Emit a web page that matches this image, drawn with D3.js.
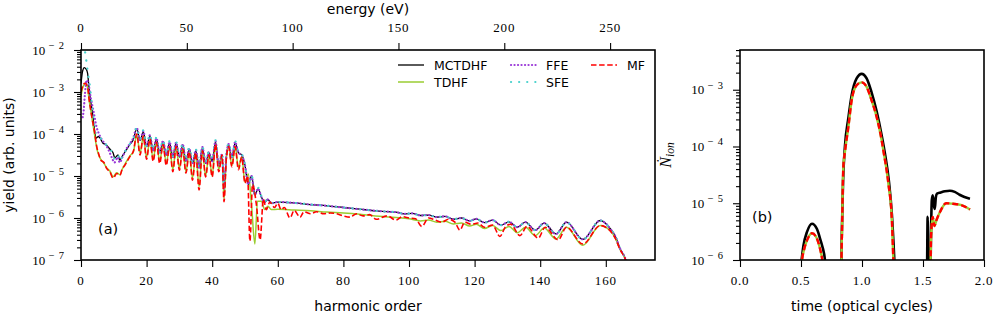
<!DOCTYPE html>
<html>
<head>
<meta charset="utf-8">
<script src="https://cdn.jsdelivr.net/npm/d3@7"></script>
<style>
  body { margin: 0; background: #fff; }
</style>
</head>
<body>
<div id="chart"></div>
<script>
// 1. DATA  (panel a: [harmonic order, log10 yield]; panel b: [optical cycles, log10 rate])
const seriesNames = ["MCTDHF", "TDHF", "FFE", "SFE", "MF"];

const mctdhfHead = [[0,-2.8],[0.5,-2.5],[1,-2.42],[1.5,-2.45],[2,-2.55],[2.5,-2.95],[3,-3.25],[3.5,-3.5],[4,-3.83],[4.6,-4.1],[5.3,-4.06],[6,-4.12],[6.7,-4.22],[7.5,-4.25],[8.2,-4.3],[9,-4.38],[9.8,-4.45],[10.3,-4.57],[11.3,-4.5],[11.8,-4.62],[12.8,-4.5],[13.8,-4.38],[14.8,-4.26],[15.9,-4.14],[17,-3.88],
  [18,-4.15],[19,-3.95],[20,-4.3],[21,-4.05],[22,-4.4],[23,-4.12],[24,-4.45],[25,-4.18],[26,-4.5],[27,-4.21],[28,-4.55],[29,-4.21],[30,-4.55],[31,-4.26],[32,-4.65],[33,-4.36],[34,-4.7],[35,-4.4],[36,-4.8],[37,-4.33],[38,-4.7],[39,-4.45],[40,-4.65],[41,-4.19],[42,-4.75],[43,-4.5],[43.6,-5.3],[44.3,-4.55],[45,-4.26],[46,-4.55],[47,-4.21],
  [48,-4.45],[49,-4.5],[50,-4.75],[51,-5.2],[52,-5.0],[53,-5.45],[54,-5.3],[55,-5.5],[56,-5.62],[57,-5.56],[58,-5.65]];
const ffeHead = [[0.5,-3.6],[0.8,-3.45],[1.2,-3.05],[1.7,-2.72],[2.2,-2.78],[3,-3.15],[3.8,-3.45],[4.8,-3.85],[5.5,-4.0],[6.5,-4.15],[7.5,-4.25],[8.5,-4.4],[9.5,-4.58],[10.2,-4.68],[11.2,-4.55],[11.8,-4.68],[12.8,-4.52],[13.8,-4.36],[14.8,-4.24],[15.9,-4.1],[17,-3.85],
  [18,-4.15],[19,-3.93],[20,-4.3],[21,-4.03],[22,-4.4],[23,-4.1],[24,-4.45],[25,-4.16],[26,-4.5],[27,-4.19],[28,-4.55],[29,-4.2],[30,-4.55],[31,-4.24],[32,-4.65],[33,-4.34],[34,-4.7],[35,-4.38],[36,-4.8],[37,-4.31],[38,-4.7],[39,-4.43],[40,-4.65],[41,-4.17],[42,-4.75],[43,-4.48],[43.6,-5.3],[44.3,-4.53],[45,-4.24],[46,-4.55],[47,-4.19],
  [48,-4.45],[49,-4.5],[50,-4.75],[51,-5.2],[52,-5.0],[53,-5.45],[54,-5.3],[55,-5.5],[56,-5.62],[57,-5.56],[58,-5.65]];
const sfeHead = [[0,-1.9],[0.5,-1.95],[1.1,-2.0],[1.6,-2.24],[2.1,-2.55],[2.7,-2.85],[3.3,-3.3],[4,-3.75],[4.6,-4.0],[5.3,-4.04],[6,-4.1],[6.7,-4.2],[7.5,-4.24],[8.2,-4.3],[9,-4.38],[9.8,-4.47],[10.3,-4.6],[11.3,-4.5],[11.8,-4.64],[12.8,-4.5],[13.8,-4.37],[14.8,-4.25],[15.9,-4.12],[17,-3.84],
  [18,-4.13],[19,-3.91],[20,-4.28],[21,-4.01],[22,-4.38],[23,-4.08],[24,-4.43],[25,-4.14],[26,-4.48],[27,-4.17],[28,-4.53],[29,-4.18],[30,-4.53],[31,-4.22],[32,-4.63],[33,-4.32],[34,-4.68],[35,-4.36],[36,-4.78],[37,-4.29],[38,-4.68],[39,-4.41],[40,-4.63],[41,-4.15],[42,-4.73],[43,-4.46],[43.6,-5.28],[44.3,-4.51],[45,-4.22],[46,-4.53],[47,-4.17],
  [48,-4.43],[49,-4.48],[50,-4.73],[51,-5.18],[52,-4.98],[53,-5.43],[54,-5.28],[55,-5.48],[56,-5.6],[57,-5.55],[58,-5.64]];
// MCTDHF, FFE and SFE lie on top of each other above h = 60
const upperTail = [[60,-5.62],[65,-5.64],[70,-5.68],[75,-5.71],[80,-5.75],[85,-5.79],[90,-5.83],[93.5,-5.85],[96,-5.86],[98.5,-5.9],[101,-5.89],[103.5,-5.94],[106,-5.93],[108.5,-5.98],[111,-5.96],[113.5,-6.03],[116,-6.0],[118.5,-6.07],
  [120.5,-6.02],[123,-6.11],[125.5,-6.05],[128,-6.17],[130.5,-6.09],[133,-6.22],[135.5,-6.1],[138.5,-6.29],[141.2,-6.12],[144.8,-6.38],[148,-6.1],[153,-6.51],[158.3,-6.06],[160,-6.13],[161.3,-6.25],[163,-6.45],[164.3,-6.72],[165.9,-6.96],[166.5,-7.1]];
const tdhf = [[0,-3.1],[0.5,-2.9],[1,-2.82],[1.5,-2.8],[2,-2.9],[2.5,-3.2],[3,-3.45],[3.5,-3.7],[4,-3.95],[4.5,-4.2],[5,-4.4],[6,-4.6],[7,-4.7],[7.8,-4.8],[8.8,-4.88],[9.8,-5.02],[10.9,-4.92],[11.9,-4.97],[12.5,-4.85],[13.4,-4.72],[14.9,-4.52],[16,-4.42],[17,-4.02],
  [18,-4.45],[19,-4.07],[20,-4.55],[21,-4.14],[22,-4.6],[23,-4.2],[24,-4.65],[25,-4.25],[26,-4.7],[27,-4.3],[28,-4.85],[29,-4.3],[30,-4.82],[31,-4.35],[32,-4.9],[33,-4.42],[34,-5.05],[35,-4.45],[36,-5.25],[37,-4.4],[38,-5.0],[39,-4.5],[40,-5.0],[41,-4.25],[42,-4.85],[43,-4.5],[43.6,-5.55],[44.3,-4.6],[45,-4.3],[46,-4.75],[47,-4.3],
  [48,-4.8],[49,-4.55],[50,-5.15],[51,-4.95],[52,-5.7],[53,-6.62],[53.8,-5.6],[55,-5.6],[56,-5.8],[57,-5.72],[58,-5.8],[60,-5.79],[65,-5.81],[70,-5.83],[75,-5.86],[80,-5.88],[85,-5.91],[91,-5.96],[96,-5.99],[100,-6.02],[103.5,-6.07],[106,-6.05],[108.5,-6.1],[111,-6.08],[113.5,-6.14],[116,-6.12],[118.5,-6.19],
  [120.5,-6.15],[123,-6.25],[125.5,-6.18],[128,-6.3],[130.5,-6.2],[133,-6.35],[135.5,-6.22],[138.5,-6.42],[141.2,-6.24],[144.8,-6.5],[148,-6.22],[153,-6.65],[158.3,-6.18],[160,-6.22],[161.3,-6.3],[163,-6.5],[164.3,-6.74],[165.9,-6.97],[166.5,-7.1]];
const mf = [[0,-3.0],[0.7,-2.83],[1.2,-2.79],[2,-2.87],[2.5,-3.19],[3.3,-3.59],[4.2,-3.98],[4.8,-4.3],[5.5,-4.5],[6,-4.62],[7,-4.68],[7.8,-4.82],[8.8,-4.9],[9.8,-5.05],[10.9,-4.94],[11.9,-4.98],[12.5,-4.85],[13.4,-4.74],[14.9,-4.54],[16,-4.4],[17,-4.0],
  [18,-4.5],[19,-4.05],[20,-4.6],[21,-4.12],[22,-4.65],[23,-4.2],[24,-4.7],[25,-4.25],[26,-4.75],[27,-4.3],[28,-4.9],[29,-4.3],[30,-4.86],[31,-4.35],[32,-4.93],[33,-4.42],[34,-5.1],[35,-4.45],[36,-5.33],[37,-4.4],[38,-5.02],[39,-4.5],[40,-5.02],[41,-4.25],[42,-4.9],[43,-4.5],[43.6,-5.61],[44.3,-4.6],[45,-4.3],[46,-4.78],[47,-4.3],
  [48,-4.85],[49,-4.55],[50,-5.17],[50.8,-5.0],[51.5,-6.55],[52.3,-5.2],[53.5,-5.7],[54.6,-6.52],[55.6,-5.55],[56.5,-5.8],[57.6,-5.62],[59,-5.75],[60,-5.65],[61,-5.8],[62,-5.75],[63.7,-6.0],[65,-5.82],[66.8,-5.98],[68,-5.85],[70,-5.9],[71.8,-5.85],[74,-5.9],[76,-5.88],[78,-5.9],[80,-5.95],[82,-5.98],[84,-5.9],[86,-5.95],[88,-5.92],[90,-6.03],[93.4,-5.95],[96,-6.05],[98,-5.97],[100,-6.0],
  [102,-6.02],[103.9,-6.2],[106,-6.0],[108,-6.05],[110,-6.1],[112,-6.03],[114,-6.1],[115.5,-6.29],[117,-6.1],[119,-6.15],[121,-6.12],[123,-6.22],[125.5,-6.17],[127.7,-6.44],[129.5,-6.2],[131,-6.15],[133.8,-6.42],[136,-6.2],[139.4,-6.48],[141.5,-6.22],[145.5,-6.52],[148,-6.22],[153,-6.62],[158.3,-6.18],[160,-6.22],[161.3,-6.3],[163,-6.5],[164.3,-6.74],[165.9,-6.97],[166.5,-7.1]];

const ionMCTDHF = [[0.49,-6.3],[0.505,-6.0],[0.52,-5.75],[0.55,-5.5],[0.59,-5.36],[0.63,-5.45],[0.66,-5.65],[0.69,-5.9],[0.71,-6.2],
  [0.825,-6.5],[0.835,-5.5],[0.845,-4.6],[0.86,-4.0],[0.888,-3.5],[0.915,-3.1],[0.956,-2.8],[0.997,-2.72],[1.038,-2.8],[1.079,-3.05],[1.12,-3.38],[1.161,-3.8],[1.19,-4.15],[1.22,-4.6],[1.245,-5.2],[1.265,-6.0],[1.275,-6.5],
  [1.532,-6.3],[1.538,-5.24],[1.546,-6.3],[1.560,-6.3],[1.566,-5.5],[1.572,-4.95],[1.58,-4.86],[1.59,-5.05],[1.597,-5.1],[1.605,-4.9],[1.615,-4.83],[1.645,-4.81],[1.68,-4.79],[1.72,-4.78],[1.76,-4.8],[1.80,-4.85],[1.84,-4.89],[1.885,-4.92]];
const ionTDHF = [[0.495,-6.3],[0.508,-6.0],[0.525,-5.82],[0.55,-5.65],[0.59,-5.53],[0.62,-5.58],[0.65,-5.75],[0.675,-6.0],[0.695,-6.3],
  [0.825,-6.5],[0.835,-5.6],[0.847,-4.36],[0.86,-4.1],[0.888,-3.66],[0.915,-3.19],[0.956,-2.92],[0.997,-2.87],[1.038,-2.95],[1.079,-3.19],[1.12,-3.48],[1.161,-3.89],[1.175,-4.07],[1.216,-4.65],[1.245,-5.3],[1.257,-6.0],[1.267,-6.5],
  [1.558,-6.5],[1.566,-5.6],[1.58,-5.24],[1.594,-5.4],[1.61,-5.3],[1.64,-5.15],[1.69,-5.0],[1.745,-5.01],[1.81,-5.03],[1.885,-5.11]];
const ionMF = [[0.495,-6.3],[0.508,-6.0],[0.525,-5.82],[0.55,-5.65],[0.59,-5.53],[0.62,-5.58],[0.65,-5.75],[0.675,-6.0],[0.695,-6.3],
  [0.825,-6.5],[0.835,-5.6],[0.847,-4.36],[0.86,-4.1],[0.888,-3.66],[0.915,-3.19],[0.956,-2.92],[0.997,-2.87],[1.038,-2.95],[1.079,-3.19],[1.12,-3.48],[1.161,-3.89],[1.175,-4.07],[1.216,-4.65],[1.245,-5.3],[1.257,-6.0],[1.267,-6.5],
  [1.558,-6.5],[1.566,-5.6],[1.58,-5.24],[1.594,-5.4],[1.61,-5.3],[1.64,-5.15],[1.69,-5.0],[1.745,-5.01],[1.81,-5.03],[1.885,-5.11]];

const harmonicTicks = [0, 20, 40, 60, 80, 100, 120, 140, 160];
const energyTicks = [0, 50, 100, 150, 200, 250];
const timeTicks = [0, 0.5, 1.0, 1.5, 2.0];
const photonEnergy = 1.5498; // eV per harmonic (800 nm)

// 2. SETUP
const width = 995, height = 315;
const svg = d3.select("#chart").append("svg")
    .attr("width", width).attr("height", height);

const serif = "'Liberation Serif', 'DejaVu Serif', serif";
const sans = "'DejaVu Sans', sans-serif";

const A = {left: 81, right: 655, top: 50, bottom: 260};
const B = {left: 740, right: 984, top: 50, bottom: 260};

const xA = d3.scaleLinear().domain([0, 175]).range([A.left, A.right]);
const eA = d3.scaleLinear().domain([0, 175 * photonEnergy]).range([A.left, A.right]);
const yA = d3.scaleLog().domain([1e-7, 1e-2]).range([A.bottom, A.top]);
const xB = d3.scaleLinear().domain([0, 2]).range([B.left, B.right]);
const yB = d3.scaleLog().domain([1e-6, Math.pow(10, -2.3)]).range([B.bottom, B.top]);

const color = {MCTDHF: "#000000", TDHF: "#9acd32", FFE: "#9b3ad8", SFE: "#48d1cc", MF: "#ff0000"};
const dash = {MCTDHF: null, TDHF: null, FFE: "0.1,3.4", SFE: "0.1,8", MF: "5.5,2.6"};
const widthA = {MCTDHF: 1.3, TDHF: 1.5, FFE: 2.2, SFE: 2.2, MF: 1.6};
const isDotted = d => d === "FFE" || d === "SFE";

const defs = svg.append("defs");
defs.append("clipPath").attr("id", "clipA").append("rect")
    .attr("x", A.left).attr("y", A.top).attr("width", A.right - A.left).attr("height", A.bottom - A.top);
defs.append("clipPath").attr("id", "clipB").append("rect")
    .attr("x", B.left).attr("y", B.top).attr("width", B.right - B.left).attr("height", B.bottom - B.top);

// 3. AXES
function logYAxis(scale, x, lo, hi) {
    const top = scale.domain()[1] * 1.0001;
    const majors = d3.range(lo, hi + 1).map(e => Math.pow(10, e));
    const minors = [];
    for (let e = lo; e <= hi; e++) {
        for (let k = 2; k <= 9; k++) {
            const v = k * Math.pow(10, e);
            if (v <= top) minors.push(v);
        }
    }
    const g = svg.append("g").attr("transform", `translate(${x},0)`);
    g.append("g").call(d3.axisLeft(scale).tickValues(minors).tickSize(4).tickFormat(""));
    g.append("g").call(d3.axisLeft(scale).tickValues(majors).tickSize(7).tickFormat(""));
    g.selectAll(".domain").remove();
    g.selectAll("line").attr("stroke-width", 1.1);

    d3.range(lo, hi + 1).forEach(e => {
        const t = svg.append("text")
            .attr("x", x - 13).attr("y", scale(Math.pow(10, e)) + 4.5)
            .attr("text-anchor", "end")
            .style("font-family", serif).style("font-size", "13px");
        t.append("tspan").text("10");
        t.append("tspan").attr("dx", 3.5).attr("dy", -5.5)
            .style("font-size", "10.5px").attr("letter-spacing", "4px")
            .text("\u2212" + (-e));
    });
}

function linearXAxis(scale, y, ticks, fmt, orient) {
    const axis = orient === "top" ? d3.axisTop(scale) : d3.axisBottom(scale);
    const g = svg.append("g").attr("transform", `translate(0,${y})`)
        .call(axis.tickValues(ticks).tickSize(7).tickFormat(""));
    g.selectAll(".domain").remove();
    g.selectAll("line").attr("stroke-width", 1.1);
    svg.append("g").selectAll("text").data(ticks).join("text")
        .attr("x", d => scale(d))
        .attr("y", orient === "top" ? y - 18 : y + 25)
        .attr("text-anchor", "middle")
        .style("font-family", serif).style("font-size", "13px")
        .attr("letter-spacing", "0.8px")
        .text(fmt);
}

logYAxis(yA, A.left, -7, -2);
linearXAxis(xA, A.bottom, harmonicTicks, d => d, "bottom");
linearXAxis(eA, A.top, energyTicks, d => d, "top");

logYAxis(yB, B.left, -6, -3);
linearXAxis(xB, B.bottom, timeTicks, d => d.toFixed(1), "bottom");

// 4. LINES
const lineA = d3.line().x(d => xA(d[0])).y(d => yA(Math.pow(10, d[1]))).curve(d3.curveMonotoneX);
const lineB = d3.line().x(d => xB(d[0])).y(d => yB(Math.pow(10, d[1]))).curve(d3.curveMonotoneX);

const dataA = {
    MCTDHF: mctdhfHead.concat(upperTail),
    TDHF: tdhf,
    FFE: ffeHead.concat(upperTail),
    SFE: sfeHead.concat(upperTail),
    MF: mf
};

const plotA = svg.append("g").attr("clip-path", "url(#clipA)");
plotA.selectAll("path").data(seriesNames).join("path")
    .attr("d", d => lineA(dataA[d]))
    .attr("fill", "none")
    .attr("stroke", d => color[d])
    .attr("stroke-width", d => widthA[d])
    .attr("stroke-dasharray", d => dash[d])
    .attr("stroke-linejoin", "round")
    .attr("stroke-linecap", d => isDotted(d) ? "round" : "butt");

const dataB = [
    {name: "MCTDHF", pts: ionMCTDHF, w: 2.6, dash: null},
    {name: "TDHF", pts: ionTDHF, w: 2.4, dash: null},
    {name: "MF", pts: ionMF, w: 2.4, dash: "6,3"}
];
svg.append("g").attr("clip-path", "url(#clipB)")
    .selectAll("path").data(dataB).join("path")
    .attr("d", d => lineB(d.pts))
    .attr("fill", "none")
    .attr("stroke", d => color[d.name])
    .attr("stroke-width", d => d.w)
    .attr("stroke-dasharray", d => d.dash)
    .attr("stroke-linejoin", "round");

// frames
[A, B].forEach(p => {
    svg.append("rect")
        .attr("x", p.left).attr("y", p.top)
        .attr("width", p.right - p.left).attr("height", p.bottom - p.top)
        .attr("fill", "none").attr("stroke", "#000").attr("stroke-width", 1.6);
});

// 5. LABELS
svg.append("text").attr("x", (A.left + A.right) / 2).attr("y", 311)
    .attr("text-anchor", "middle").style("font-family", sans).style("font-size", "14px")
    .text("harmonic order");
svg.append("text").attr("x", (A.left + A.right) / 2).attr("y", 13.5)
    .attr("text-anchor", "middle").style("font-family", sans).style("font-size", "14px")
    .text("energy (eV)");
svg.append("text").attr("transform", `translate(14,${(A.top + A.bottom) / 2}) rotate(-90)`)
    .attr("text-anchor", "middle").style("font-family", sans).style("font-size", "14px")
    .text("yield (arb. units)");
svg.append("text").attr("x", (B.left + B.right) / 2).attr("y", 310.5)
    .attr("text-anchor", "middle").style("font-family", sans).style("font-size", "14px")
    .text("time (optical cycles)");

const nLabel = svg.append("text")
    .attr("transform", `translate(671,${(B.top + B.bottom) / 2}) rotate(-90)`)
    .attr("text-anchor", "middle")
    .style("font-family", serif).style("font-style", "italic").style("font-size", "16px");
nLabel.append("tspan").text("\u1E44");
nLabel.append("tspan").attr("dy", 3).style("font-size", "11.5px").text("ion");

svg.append("text").attr("x", 98).attr("y", 233.5)
    .style("font-family", sans).style("font-size", "14.5px").text("(a)");
svg.append("text").attr("x", 752).attr("y", 222)
    .style("font-family", sans).style("font-size", "14.5px").text("(b)");

// legend (column-major, two rows)
const legendCols = [398, 510, 591];
const legendRows = [65, 82];
const legend = svg.append("g").selectAll("g").data(seriesNames).join("g")
    .attr("transform", (d, i) => `translate(${legendCols[Math.floor(i / 2)]},${legendRows[i % 2]})`);
legend.append("line")
    .attr("x1", d => isDotted(d) ? 1 : 0).attr("x2", 26).attr("y1", 0).attr("y2", 0)
    .attr("stroke", d => color[d])
    .attr("stroke-width", d => widthA[d])
    .attr("stroke-dasharray", d => dash[d])
    .attr("stroke-linecap", d => isDotted(d) ? "round" : "butt");
legend.append("text")
    .attr("x", 36).attr("y", 4.5)
    .style("font-family", sans).style("font-size", "12.5px")
    .text(d => d);
</script>
</body>
</html>
